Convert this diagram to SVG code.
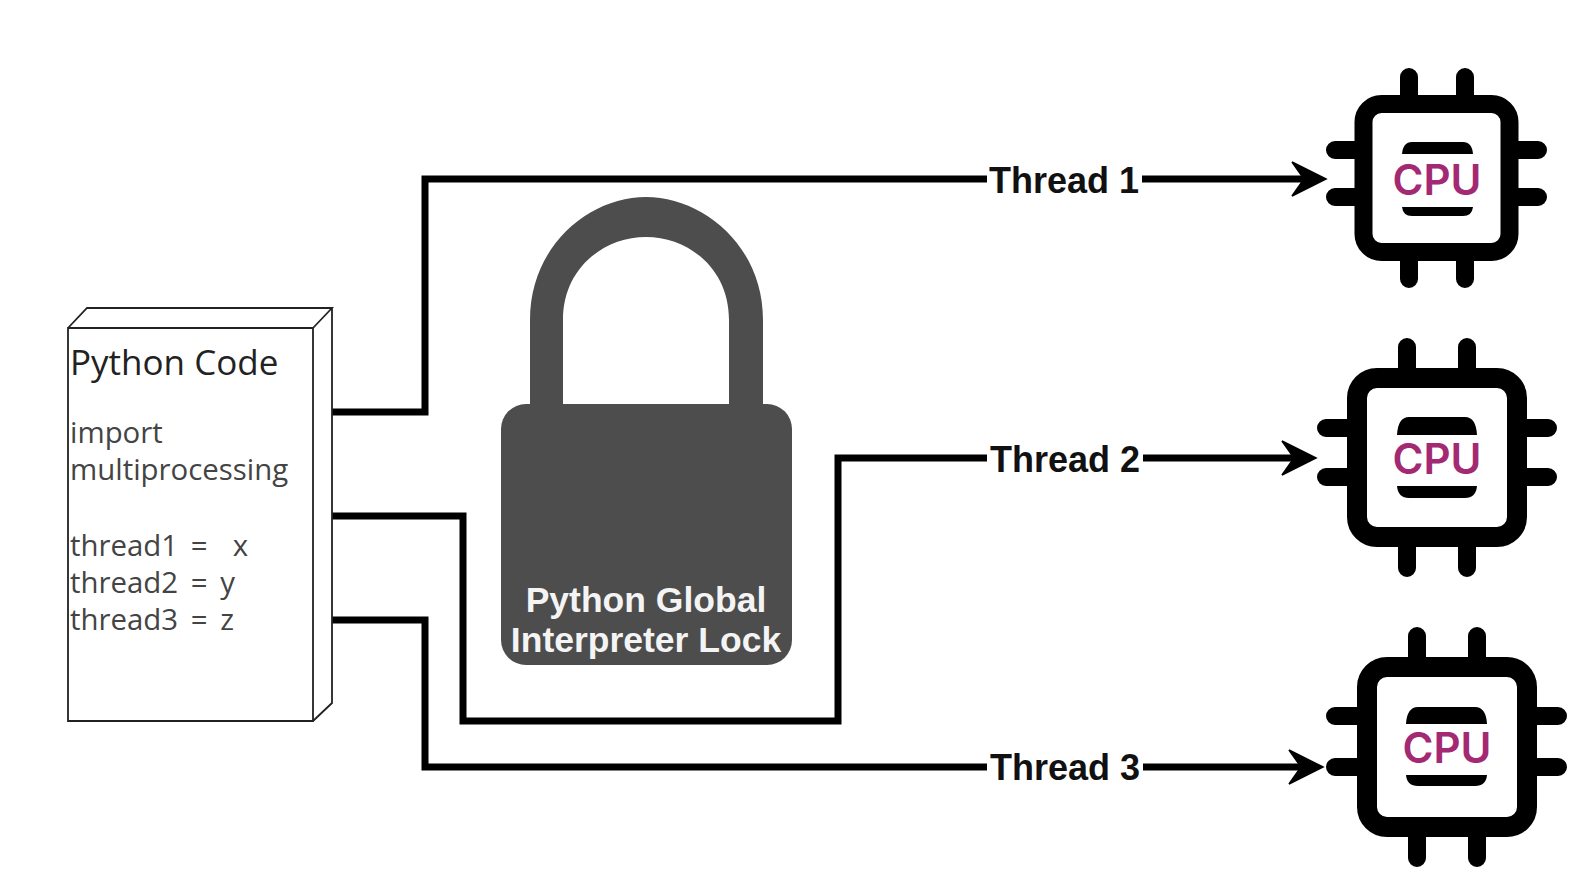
<svg xmlns="http://www.w3.org/2000/svg" width="1590" height="890" viewBox="0 0 1590 890">
<style>
.c{fill:none;stroke:#000;stroke-width:7}
.h{fill:#000}
.a{fill:#000;stroke:#000;stroke-width:1.5}
.t{font-family:"Open Sans","Noto Sans",sans-serif;font-size:35px;fill:#222}
.s{font-family:"Open Sans","Noto Sans",sans-serif;font-size:29.4px;fill:#444;word-spacing:5px;white-space:pre}
.l{font-family:"Liberation Sans",sans-serif;font-size:36px;font-weight:bold;fill:#111}
.w{font-family:"Liberation Sans",sans-serif;font-size:35.5px;font-weight:bold;fill:#f4f4f4;text-anchor:middle}
.box{fill:#fff;stroke:#000;stroke-width:18}
.p{fill:none;stroke:#000;stroke-width:18;stroke-linecap:round}
.u{font-family:Inter,"Liberation Sans",sans-serif;font-size:42px;font-weight:600;fill:#a32a72;text-anchor:middle}
</style>
<defs>
<path id="arrow" d="M-1 0L-35-17L-23 0L-35 17Z"/>
</defs>
<rect width="1590" height="890" fill="#fff"/>
<g id="connectors">
<path class="c" d="M332 412H425V179H987"/>
<path class="c" d="M332 516H463V721H838V458H987"/>
<path class="c" d="M332 620H425V767H987"/>
<path class="c" d="M1142 179H1305M1143 458H1295M1143 767H1302"/>
<use class="a" href="#arrow" x="1327" y="179"/>
<use class="a" href="#arrow" x="1317" y="458"/>
<use class="a" href="#arrow" x="1324" y="767"/>
</g>
<g id="python-code">
<path d="M68 328V721H313V328ZM68 328L87 308H332L313 328M332 308V703L313 721" fill="#fff" stroke="#222" stroke-width="1.8"/>
<text class="t" x="70" y="375">Python Code</text>
<text class="s" x="70" y="443">import</text>
<text class="s" x="70" y="480">multiprocessing</text>
<text class="s" x="70" y="556">thread1 =  x</text>
<text class="s" x="70" y="593">thread2 = y</text>
<text class="s" x="70" y="630">thread3 = z</text>
</g>
<g id="lock">
<path fill="#4d4d4d" d="M530 410V320C530 245 590 197 646 197C702 197 763 245 763 320V410H729V320C729 268 688 237 646 237C604 237 563 268 563 320V410Z"/>
<rect x="501" y="404" width="291" height="261" rx="25" fill="#4d4d4d"/>
<text class="w" x="646" y="612">Python Global</text>
<text class="w" x="646" y="652">Interpreter Lock</text>
</g>
<g id="thread-1"><text class="l" x="989" y="193">Thread 1</text></g>
<g id="thread-2"><text class="l" x="990" y="472">Thread 2</text></g>
<g id="thread-3"><text class="l" x="990" y="780">Thread 3</text></g>
<g id="cpu-1">
<path class="p" d="M1409 77V100M1465 77V100M1409 255V279M1465 255V279M1335 150H1360M1335 197H1360M1513 150H1538M1513 197H1538"/>
<rect class="box" x="1363.500" y="104" width="146" height="148" rx="18"/>
<path class="h" d="M1402 154Q1403 142 1412 142H1463Q1472 142 1473 154ZM1402 207Q1403 216 1412 216H1463Q1472 216 1473 207Z"/>
<text class="u" x="1437" y="195">CPU</text>
</g>
<g id="cpu-2">
<path class="p" d="M1407 347V375M1467 347V375M1407 540V568M1467 540V568M1326 428H1352M1326 477H1352M1522 428H1548M1522 477H1548"/>
<rect class="box" x="1357" y="378" width="160" height="159" rx="20" style="stroke-width:20"/>
<path class="h" d="M1397 435Q1398 417 1409 417H1465Q1476 417 1477 435ZM1397 486Q1398 498 1409 498H1465Q1476 498 1477 486Z"/>
<text class="u" x="1437" y="474">CPU</text>
</g>
<g id="cpu-3">
<path class="p" d="M1417 636V664M1477 636V664M1417 830V858M1477 830V858M1335 716H1362M1335 767H1362M1532 716H1558M1532 767H1558"/>
<rect class="box" x="1367" y="667" width="160" height="160" rx="20" style="stroke-width:20"/>
<path class="h" d="M1406 724Q1407 707 1418 707H1475Q1486 707 1487 724ZM1406 775Q1407 786 1418 786H1475Q1486 786 1487 775Z"/>
<text class="u" x="1447" y="763">CPU</text>
</g>
</svg>
